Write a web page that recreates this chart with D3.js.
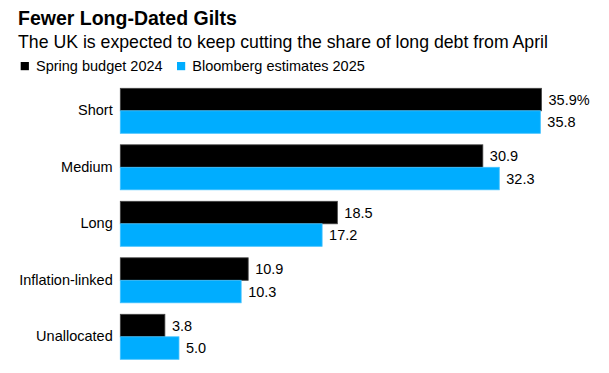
<!DOCTYPE html>
<html>
<head>
<meta charset="utf-8">
<script src="https://cdn.jsdelivr.net/npm/d3@7"></script>
<style>
  body { margin: 0; background: #fff; }
  text { font-family: "Liberation Sans", Arial, sans-serif; fill: #000; }
</style>
</head>
<body>
<div id="chart"></div>
<script>
// data
var categories = ["Short", "Medium", "Long", "Inflation-linked", "Unallocated"];
var seriesNames = ["Spring budget 2024", "Bloomberg estimates 2025"];
var budget2024 = [35.9, 30.9, 18.5, 10.9, 3.8];
var estimates2025 = [35.8, 32.3, 17.2, 10.3, 5.0];
var colors = ["#000000", "#00adff"];

var width = 609, height = 373;
var margin = {top: 88.3, left: 120.3, right: 40, bottom: 14};

var svg = d3.select("#chart")
  .append("svg")
    .attr("width", width)
    .attr("height", height);

// title + subtitle
svg.append("text")
  .attr("x", 18).attr("y", 25)
  .style("font-size", "19.5px").style("font-weight", "bold")
  .text("Fewer Long-Dated Gilts");
svg.append("text")
  .attr("x", 18).attr("y", 47.5)
  .style("font-size", "17.7px")
  .text("The UK is expected to keep cutting the share of long debt from April");

// legend
var legendX = [20.7, 177];
seriesNames.forEach(function(name, i) {
  var g = svg.append("g").attr("transform", "translate(" + legendX[i] + ",0)");
  g.append("rect").attr("x", 0).attr("y", 62).attr("width", 8.2).attr("height", 8.2)
    .attr("fill", colors[i]);
  g.append("text").attr("x", 15.3).attr("y", 71)
    .style("font-size", "14.5px")
    .text(name);
});

var x = d3.scaleLinear()
  .domain([0, 35.9])
  .range([margin.left, 541.5]);

var y = d3.scaleBand()
  .domain(categories)
  .range([margin.top, 359.3])
  .paddingInner(0.2035)
  .paddingOuter(0);

var inner = d3.scaleBand()
  .domain([0, 1])
  .range([0, y.bandwidth()]);

var rows = categories.map(function(c, i) {
  return {cat: c, vals: [budget2024[i], estimates2025[i]]};
});

var group = svg.selectAll(".row")
  .data(rows)
  .enter()
  .append("g")
    .attr("class", "row")
    .attr("transform", function(d) { return "translate(0," + y(d.cat) + ")"; });

group.selectAll("rect")
  .data(function(d) { return d.vals; })
  .enter()
  .append("rect")
    .attr("x", x(0))
    .attr("y", function(d, i) { return inner(i); })
    .attr("width", function(d) { return x(d) - x(0); })
    .attr("height", inner.bandwidth())
    .attr("fill", function(d, i) { return colors[i]; })
    .attr("stroke", function(d, i) { return i == 0 ? "#444" : "#40c0ff"; })
    .attr("stroke-width", 0.8);

// value labels
group.selectAll(".val")
  .data(function(d, r) { return d.vals.map(function(v) { return {v: v, r: r}; }); })
  .enter()
  .append("text")
    .attr("class", "val")
    .attr("x", function(d) { return x(d.v) + 7; })
    .attr("y", function(d, i) { return inner(i) + inner.bandwidth() / 2; })
    .attr("dy", "0.35em")
    .style("font-size", "14.5px")
    .text(function(d, i) { return d.v.toFixed(1) + (d.r == 0 && i == 0 ? "%" : ""); });

// category axis
svg.append("g")
  .attr("transform", "translate(" + (margin.left - 7.6) + ",0)")
  .call(d3.axisLeft(y).tickSize(0).tickPadding(0))
  .call(function(g) { g.select(".domain").remove(); })
  .selectAll("text")
    .style("font-size", "14.5px")
    .style("font-family", "'Liberation Sans', Arial, sans-serif");
</script>
</body>
</html>
